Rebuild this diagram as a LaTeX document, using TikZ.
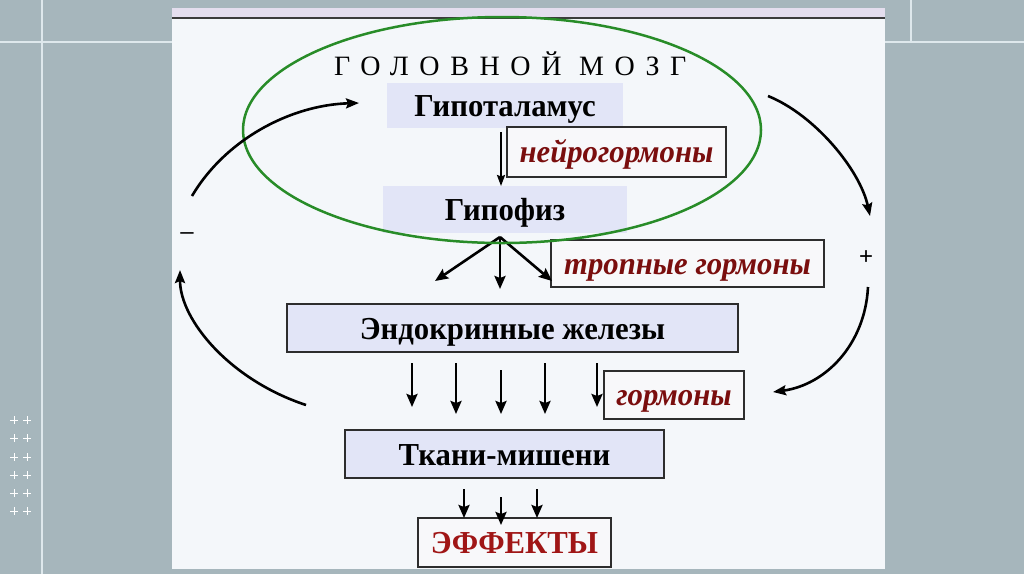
\documentclass[tikz,border=0pt]{standalone}
\usepackage{fontspec}
\setmainfont{Liberation Serif}
\newfontfamily\boxfont[FakeStretch=0.96]{Liberation Serif}
\newfontfamily\titlefont[LetterSpace=38]{Liberation Serif}
\newfontfamily\signfont{Liberation Sans}
\usetikzlibrary{arrows.meta,shapes.geometric}
\definecolor{bggrey}{RGB}{166,182,188}
\definecolor{panelc}{RGB}{244,247,250}
\definecolor{bandc}{RGB}{228,222,238}
\definecolor{darkline}{RGB}{60,60,60}
\definecolor{boxlav}{RGB}{226,229,247}
\definecolor{framec}{RGB}{45,45,45}
\definecolor{labelfill}{RGB}{248,248,250}
\definecolor{labelred}{RGB}{122,14,14}
\definecolor{effred}{RGB}{160,22,22}
\definecolor{brainc}{RGB}{40,140,40}
\definecolor{gridc}{RGB}{222,232,236}
\begin{document}
\begin{tikzpicture}[x=1pt,y=-1pt,
  plainbox/.style={fill=boxlav, inner sep=0pt, outer sep=0pt, align=center,
    text height=22pt, text depth=0pt,
    font=\boxfont\bfseries\fontsize{32}{34}\selectfont},
  framebox/.style={plainbox, draw=framec, line width=1.4pt},
  labelbox/.style={draw=framec, line width=1.4pt, fill=labelfill, inner sep=0pt, outer sep=0pt,
    text height=21pt, text depth=0pt,
    font=\boxfont\bfseries\itshape\fontsize{32}{34}\selectfont, text=labelred},
  arr/.style={draw=black, line width=2.6pt, -{Stealth[length=13pt,width=11pt,inset=2pt]}},
  thinarr/.style={draw=black, line width=2pt, -{Stealth[length=11pt,width=8pt,inset=1.5pt]}},
  loop/.style={draw=black, line width=2.6pt, -{Stealth[length=13pt,width=10pt,inset=2pt]}},
  sign/.style={font=\signfont\fontsize{24}{26}\selectfont, inner sep=0pt},
  gridline/.style={draw=gridc, line width=1.4pt}
]
\useasboundingbox (0,0) rectangle (1024,574);
% slide background
\fill[bggrey] (0,0) rectangle (1024,574);
\draw[gridline] (42,0) -- (42,574);
\draw[gridline] (0,42) -- (172,42);
\draw[gridline] (885,42) -- (1024,42);
\draw[gridline] (911,0) -- (911,42);
\foreach \yy in {420,438,457,475,493,511}{
  \foreach \xx in {14,27}{
    \draw[white, line width=1pt] (\xx-4,\yy) -- (\xx+4,\yy) (\xx,\yy-4) -- (\xx,\yy+4);
  }
}
% panel
\fill[panelc] (172,8) rectangle (885,569);
\fill[bandc] (172,8) rectangle (885,17);
\draw[darkline, line width=2pt] (172,18) -- (885,18);

% nodes
\node[font=\titlefont\fontsize{28}{30}\selectfont, inner sep=0pt, anchor=base west] (title) at (334,75) {ГОЛОВНОЙ МОЗГ};
\node[plainbox, minimum width=236pt, minimum height=45pt] (hypo) at (505,105.5) {Гипоталамус};
\node[labelbox, minimum width=219pt, minimum height=50pt] (neuro) at (616.5,152) {нейрогормоны};
\node[plainbox, minimum width=244pt, minimum height=47pt] (pit) at (505,209.5) {Гипофиз};
\node[labelbox, minimum width=273pt, minimum height=47pt] (trop) at (687.5,263.5) {тропные гормоны};
\node[framebox, minimum width=451pt, minimum height=48pt] (endo) at (512.5,328) {Эндокринные железы};
\node[labelbox, minimum width=140pt, minimum height=48pt] (horm) at (674,395) {гормоны};
\node[framebox, minimum width=319pt, minimum height=48pt] (tissue) at (504.5,454) {Ткани-мишени};
\node[labelbox, minimum width=193pt, minimum height=49pt, font=\boxfont\bfseries\fontsize{32}{34}\selectfont, text=effred] (eff) at (514.5,542.5) {ЭФФЕКТЫ};

% hypothalamus -> pituitary
\draw[thinarr] ([xshift=-4pt]hypo.south) ++(0,4) -- ([xshift=-4pt]pit.north);

% pituitary -> tropic hormones fan
\coordinate (apex) at (500,237);
\coordinate (t1) at (435,281);
\coordinate (t2) at (500,289);
\coordinate (t3) at (552,281);
\draw[arr] (apex) -- (t1);
\draw[arr] (apex) -- (t2);
\draw[arr] (apex) -- (t3);

% endocrine glands -> hormones
\foreach \n/\xx/\ya/\yb in {1/412/363/407, 2/456/363/414, 3/501/370/414, 4/545/363/414, 5/597/363/407}{
  \coordinate (hs\n) at (\xx,\ya);
  \coordinate (ht\n) at (\xx,\yb);
  \draw[arr] (hs\n) -- (ht\n);
}

% target tissues -> effects
\draw[arr] ([xshift=-40.5pt,yshift=-11pt]tissue.south) -- ([xshift=-50.5pt]eff.north);
\draw[arr] ([xshift=-3.5pt,yshift=-19pt]tissue.south) -- ([xshift=-13.5pt,yshift=-7pt]eff.north);
\draw[arr] ([xshift=32.5pt,yshift=-11pt]tissue.south) -- ([xshift=22.5pt]eff.north);

% brain ellipse
\node[ellipse, draw=brainc, line width=2.5pt, minimum width=518pt, minimum height=226pt, inner sep=0pt] (brain) at (502,130) {};

% feedback loops
\coordinate (la) at (192,196);
\coordinate (lb) at (359,103);
\coordinate (lc) at (306,405);
\coordinate (ld) at (180,270);
\coordinate (ra) at (768,96);
\coordinate (rb) at (870,216);
\coordinate (rc) at (868,287);
\coordinate (rd) at (773,392);
\draw[loop] (la) .. controls (225,140) and (290,105) .. (lb);
\draw[loop] (lc) .. controls (230,380) and (180,320) .. (ld);
\draw[loop] (ra) .. controls (815,115) and (860,170) .. (rb);
\draw[loop] (rc) .. controls (865,345) and (825,385) .. (rd);
\node[sign] (minus) at (187,236) {–};
\node[sign] (plus) at (866,258) {+};
\end{tikzpicture}
\end{document}
